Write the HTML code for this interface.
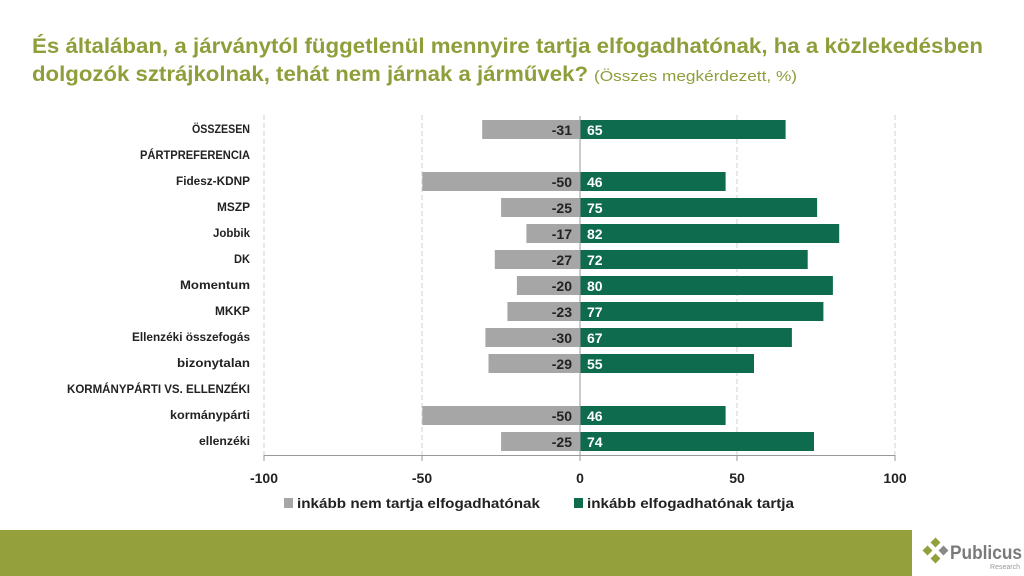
<!DOCTYPE html>
<html><head><meta charset="utf-8"><style>
html,body{margin:0;padding:0;background:#fff;width:1024px;height:576px;overflow:hidden}
svg{display:block;font-family:"Liberation Sans",sans-serif}
</style></head><body>
<svg width="1024" height="576" viewBox="0 0 1024 576" xmlns="http://www.w3.org/2000/svg">
<text x="32" y="53" font-size="21" font-weight="bold" fill="#8f9e3a" textLength="951" lengthAdjust="spacingAndGlyphs">És általában, a járványtól függetlenül mennyire tartja elfogadhatónak, ha a közlekedésben</text>
<text x="32" y="81" font-size="21" font-weight="bold" fill="#8f9e3a" textLength="556" lengthAdjust="spacingAndGlyphs">dolgozók sztrájkolnak, tehát nem járnak a járművek?</text>
<text x="594" y="81" font-size="15" fill="#8f9e3a" textLength="203" lengthAdjust="spacingAndGlyphs">(Összes megkérdezett, %)</text>
<g stroke="#d9d9d9" stroke-width="1.2" stroke-dasharray="5,3">
<line x1="264" y1="115" x2="264" y2="455"/><line x1="422" y1="115" x2="422" y2="455"/><line x1="737" y1="115" x2="737" y2="455"/><line x1="895" y1="115" x2="895" y2="455"/>
</g>
<g id="bars"></g>
<line x1="264" y1="455.5" x2="895" y2="455.5" stroke="#999" stroke-width="1"/>
<g stroke="#999"><line x1="264" y1="455" x2="264" y2="461"/><line x1="422" y1="455" x2="422" y2="461"/><line x1="580" y1="455" x2="580" y2="461"/><line x1="737" y1="455" x2="737" y2="461"/><line x1="895" y1="455" x2="895" y2="461"/></g>
<line x1="580" y1="116" x2="580" y2="455" stroke="#999"/>
<g font-size="14" font-weight="bold" fill="#222" text-anchor="middle">
<text x="264" y="483">-100</text><text x="422" y="483">-50</text><text x="580" y="483">0</text><text x="737" y="483">50</text><text x="895" y="483">100</text>
</g>
<rect x="284" y="498" width="9" height="10" fill="#a6a6a6"/>
<text x="297" y="508" font-size="14" font-weight="bold" fill="#222" textLength="243" lengthAdjust="spacingAndGlyphs">inkább nem tartja elfogadhatónak</text>
<rect x="574" y="498" width="9" height="10" fill="#0e6b4e"/>
<text x="587" y="508" font-size="14" font-weight="bold" fill="#222" textLength="207" lengthAdjust="spacingAndGlyphs">inkább elfogadhatónak tartja</text>
<rect x="0" y="530" width="912" height="46" fill="#93a03b"/>
<g transform="translate(930,553)">
<rect x="-6" y="-6" width="7" height="7" fill="#93a03b" transform="rotate(45 -2.5 -2.5)"/>
<rect x="2" y="-14" width="7" height="7" fill="#93a03b" transform="rotate(45 5.5 -10.5)"/>
<rect x="2" y="2" width="7" height="7" fill="#93a03b" transform="rotate(45 5.5 5.5)"/>
<rect x="10" y="-6" width="7" height="7" fill="#8a8a8a" transform="rotate(45 13.5 -2.5)"/>
</g>
<text x="950" y="559" font-size="19" font-weight="bold" fill="#7a7a7a" textLength="72" lengthAdjust="spacingAndGlyphs">Publicus</text>
<text x="1020" y="569" font-size="7" fill="#999" text-anchor="end">Research</text>
<g font-size="11.5" font-weight="bold" fill="#222" text-anchor="end">
<text x="250" y="133" textLength="58" lengthAdjust="spacingAndGlyphs">ÖSSZESEN</text>
<text x="250" y="159" textLength="110" lengthAdjust="spacingAndGlyphs">PÁRTPREFERENCIA</text>
<text x="250" y="185" textLength="74" lengthAdjust="spacingAndGlyphs">Fidesz-KDNP</text>
<text x="250" y="211" textLength="33" lengthAdjust="spacingAndGlyphs">MSZP</text>
<text x="250" y="237" textLength="37" lengthAdjust="spacingAndGlyphs">Jobbik</text>
<text x="250" y="263" textLength="16" lengthAdjust="spacingAndGlyphs">DK</text>
<text x="250" y="289" textLength="70" lengthAdjust="spacingAndGlyphs">Momentum</text>
<text x="250" y="315" textLength="35" lengthAdjust="spacingAndGlyphs">MKKP</text>
<text x="250" y="341" textLength="118" lengthAdjust="spacingAndGlyphs">Ellenzéki összefogás</text>
<text x="250" y="367" textLength="73" lengthAdjust="spacingAndGlyphs">bizonytalan</text>
<text x="250" y="393" textLength="183" lengthAdjust="spacingAndGlyphs">KORMÁNYPÁRTI VS. ELLENZÉKI</text>
<text x="250" y="419" textLength="80" lengthAdjust="spacingAndGlyphs">kormánypárti</text>
<text x="250" y="445" textLength="51" lengthAdjust="spacingAndGlyphs">ellenzéki</text>
</g>
<!-- bars: y center = 129 + 26*i ; scale 3.155 -->
<g>
<rect x="482.2" y="120" width="97.8" height="19" fill="#a6a6a6"/><rect x="580.5" y="120" width="205.1" height="19" fill="#0e6b4e"/>
<rect x="422.3" y="172" width="157.7" height="19" fill="#a6a6a6"/><rect x="580.5" y="172" width="145.1" height="19" fill="#0e6b4e"/>
<rect x="501.1" y="198" width="78.9" height="19" fill="#a6a6a6"/><rect x="580.5" y="198" width="236.6" height="19" fill="#0e6b4e"/>
<rect x="526.4" y="224" width="53.6" height="19" fill="#a6a6a6"/><rect x="580.5" y="224" width="258.7" height="19" fill="#0e6b4e"/>
<rect x="494.8" y="250" width="85.2" height="19" fill="#a6a6a6"/><rect x="580.5" y="250" width="227.2" height="19" fill="#0e6b4e"/>
<rect x="516.9" y="276" width="63.1" height="19" fill="#a6a6a6"/><rect x="580.5" y="276" width="252.4" height="19" fill="#0e6b4e"/>
<rect x="507.4" y="302" width="72.6" height="19" fill="#a6a6a6"/><rect x="580.5" y="302" width="242.9" height="19" fill="#0e6b4e"/>
<rect x="485.4" y="328" width="94.6" height="19" fill="#a6a6a6"/><rect x="580.5" y="328" width="211.4" height="19" fill="#0e6b4e"/>
<rect x="488.5" y="354" width="91.5" height="19" fill="#a6a6a6"/><rect x="580.5" y="354" width="173.5" height="19" fill="#0e6b4e"/>
<rect x="422.3" y="406" width="157.7" height="19" fill="#a6a6a6"/><rect x="580.5" y="406" width="145.1" height="19" fill="#0e6b4e"/>
<rect x="501.1" y="432" width="78.9" height="19" fill="#a6a6a6"/><rect x="580.5" y="432" width="233.5" height="19" fill="#0e6b4e"/>
</g>
<g font-size="14" font-weight="bold" fill="#222" text-anchor="end">
<text x="572" y="135">-31</text><text x="572" y="187">-50</text><text x="572" y="213">-25</text><text x="572" y="239">-17</text><text x="572" y="265">-27</text><text x="572" y="291">-20</text><text x="572" y="317">-23</text><text x="572" y="343">-30</text><text x="572" y="369">-29</text><text x="572" y="421">-50</text><text x="572" y="447">-25</text>
</g>
<g font-size="14" font-weight="bold" fill="#fff">
<text x="587" y="135">65</text><text x="587" y="187">46</text><text x="587" y="213">75</text><text x="587" y="239">82</text><text x="587" y="265">72</text><text x="587" y="291">80</text><text x="587" y="317">77</text><text x="587" y="343">67</text><text x="587" y="369">55</text><text x="587" y="421">46</text><text x="587" y="447">74</text>
</g>
</svg>
</body></html>
